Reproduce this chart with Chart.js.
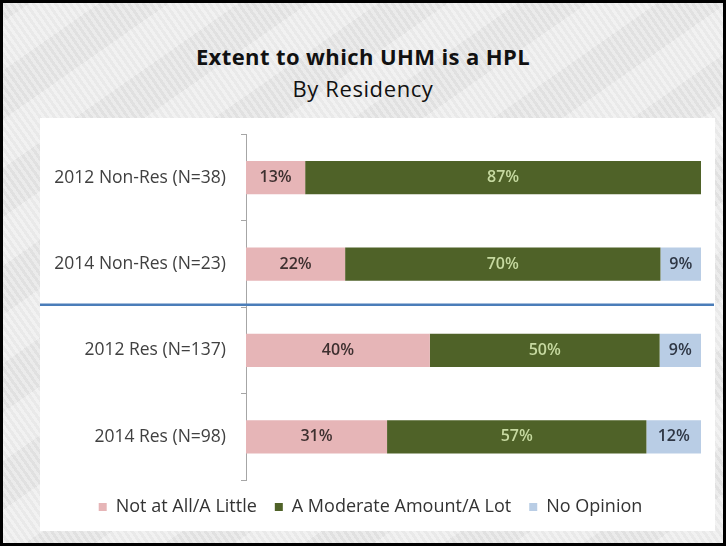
<!DOCTYPE html>
<html>
<head>
<meta charset="utf-8">
<script src="https://cdn.jsdelivr.net/npm/chart.js@4.4.1/dist/chart.umd.min.js"></script>
<style>
  body{margin:0;background:#fff;}
  #frame{position:relative;width:720px;height:540px;border:3px solid #000;overflow:hidden;
    background:#e9e9e9;
    background-image:repeating-linear-gradient(55deg,rgba(255,255,255,0.25) 0 3px,rgba(0,0,0,0.015) 3px 6px),
      repeating-linear-gradient(-35deg,rgba(255,255,255,0.2) 0 40px,rgba(0,0,0,0.02) 40px 80px);
    font-family:"Open Sans",sans-serif;}
  #title{position:absolute;left:0;top:38px;width:720px;text-align:center;font-weight:bold;font-size:22px;color:#111;letter-spacing:0.4px;}
  #subtitle{position:absolute;left:0;top:70px;width:720px;text-align:center;font-size:22px;color:#111;letter-spacing:0.6px;}
  #panel{position:absolute;left:37px;top:115px;width:675px;height:413px;background:#fff;}
  #hplChart{position:absolute;left:0;top:-9px;}
</style>
</head>
<body>
<div id="frame">
  <div id="title">Extent to which UHM is a HPL</div>
  <div id="subtitle">By Residency</div>
  <div id="panel"><canvas id="hplChart" width="675" height="417"></canvas></div>
</div>
<script>
const categories = ["2012 Non-Res (N=38)", "2014 Non-Res (N=23)", "2012 Res (N=137)", "2014 Res (N=98)"];
const notAtAll   = [13, 22, 40, 31];
const moderate   = [87, 70, 50, 57];
const noOpinion  = [0, 9, 9, 12];
const seriesNames = ["Not at All/A Little", "A Moderate Amount/A Lot", "No Opinion"];

// 100% stacked, like the original sheet: each row scaled to its own total
const totals = categories.map((c, i) => notAtAll[i] + moderate[i] + noOpinion[i]);
const share = arr => arr.map((v, i) => v / totals[i] * 100);

const fills = ["#e6b5b7", "#4f6228", "#b9cde5"];
const textColors = ["#3e3030", "#c6d9a0", "#2e3644"];

const barLabels = {
  id: "barLabels",
  afterDatasetsDraw(chart){
    const ctx = chart.ctx;
    chart.data.datasets.forEach((ds, i) => {
      chart.getDatasetMeta(i).data.forEach((bar, j) => {
        const v = ds.raw[j];
        if(!v) return;
        ctx.save();
        ctx.font = '600 16px "Open Sans"';
        ctx.fillStyle = textColors[i];
        ctx.textAlign = "center";
        ctx.textBaseline = "middle";
        ctx.fillText(v + "%", (bar.x + bar.base) / 2, bar.y);
        ctx.restore();
      });
    });
  }
};

// blue rule between Non-Res and Res groups
const groupLine = {
  id: "groupLine",
  afterDraw(chart){
    const y = chart.scales.y;
    const y1 = y.getPixelForValue(1), y2 = y.getPixelForValue(2);
    const py = y1 + (y2 - y1) * 0.47;
    const ctx = chart.ctx;
    ctx.save();
    ctx.strokeStyle = "#4a7db9";
    ctx.lineWidth = 2.5;
    ctx.beginPath();
    ctx.moveTo(0, py);
    ctx.lineTo(chart.width - 1, py);
    ctx.stroke();
    ctx.restore();
  }
};

new Chart(document.getElementById("hplChart"), {
  type: "bar",
  data: {
    labels: categories,
    datasets: [
      {label: seriesNames[0], data: share(notAtAll), raw: notAtAll, backgroundColor: fills[0]},
      {label: seriesNames[1], data: share(moderate), raw: moderate, backgroundColor: fills[1]},
      {label: seriesNames[2], data: share(noOpinion), raw: noOpinion, backgroundColor: fills[2]}
    ]
  },
  options: {
    indexAxis: "y",
    responsive: false,
    animation: false,
    datasets: {bar: {categoryPercentage: 1, barPercentage: 0.385}},
    layout: {padding: {top: 7, right: 14, bottom: 0, left: 0}},
    scales: {
      x: {stacked: true, display: false, min: 0, max: 100},
      y: {
        stacked: true,
        grid: {drawOnChartArea: false, tickLength: 5, color: "#a6a6a6"},
        border: {color: "#a6a6a6"},
        ticks: {color: "#404040", font: {family: "Open Sans", size: 17.5}, padding: 15},
        afterFit(s){ s.width = 206; }
      }
    },
    plugins: {
      legend: {
        position: "bottom",
        labels: {
          boxWidth: 8, boxHeight: 8, padding: 18,
          color: "#333", font: {family: "Open Sans", size: 18}
        }
      },
      tooltip: {enabled: false}
    }
  },
  plugins: [barLabels, groupLine]
});
</script>
</body>
</html>
